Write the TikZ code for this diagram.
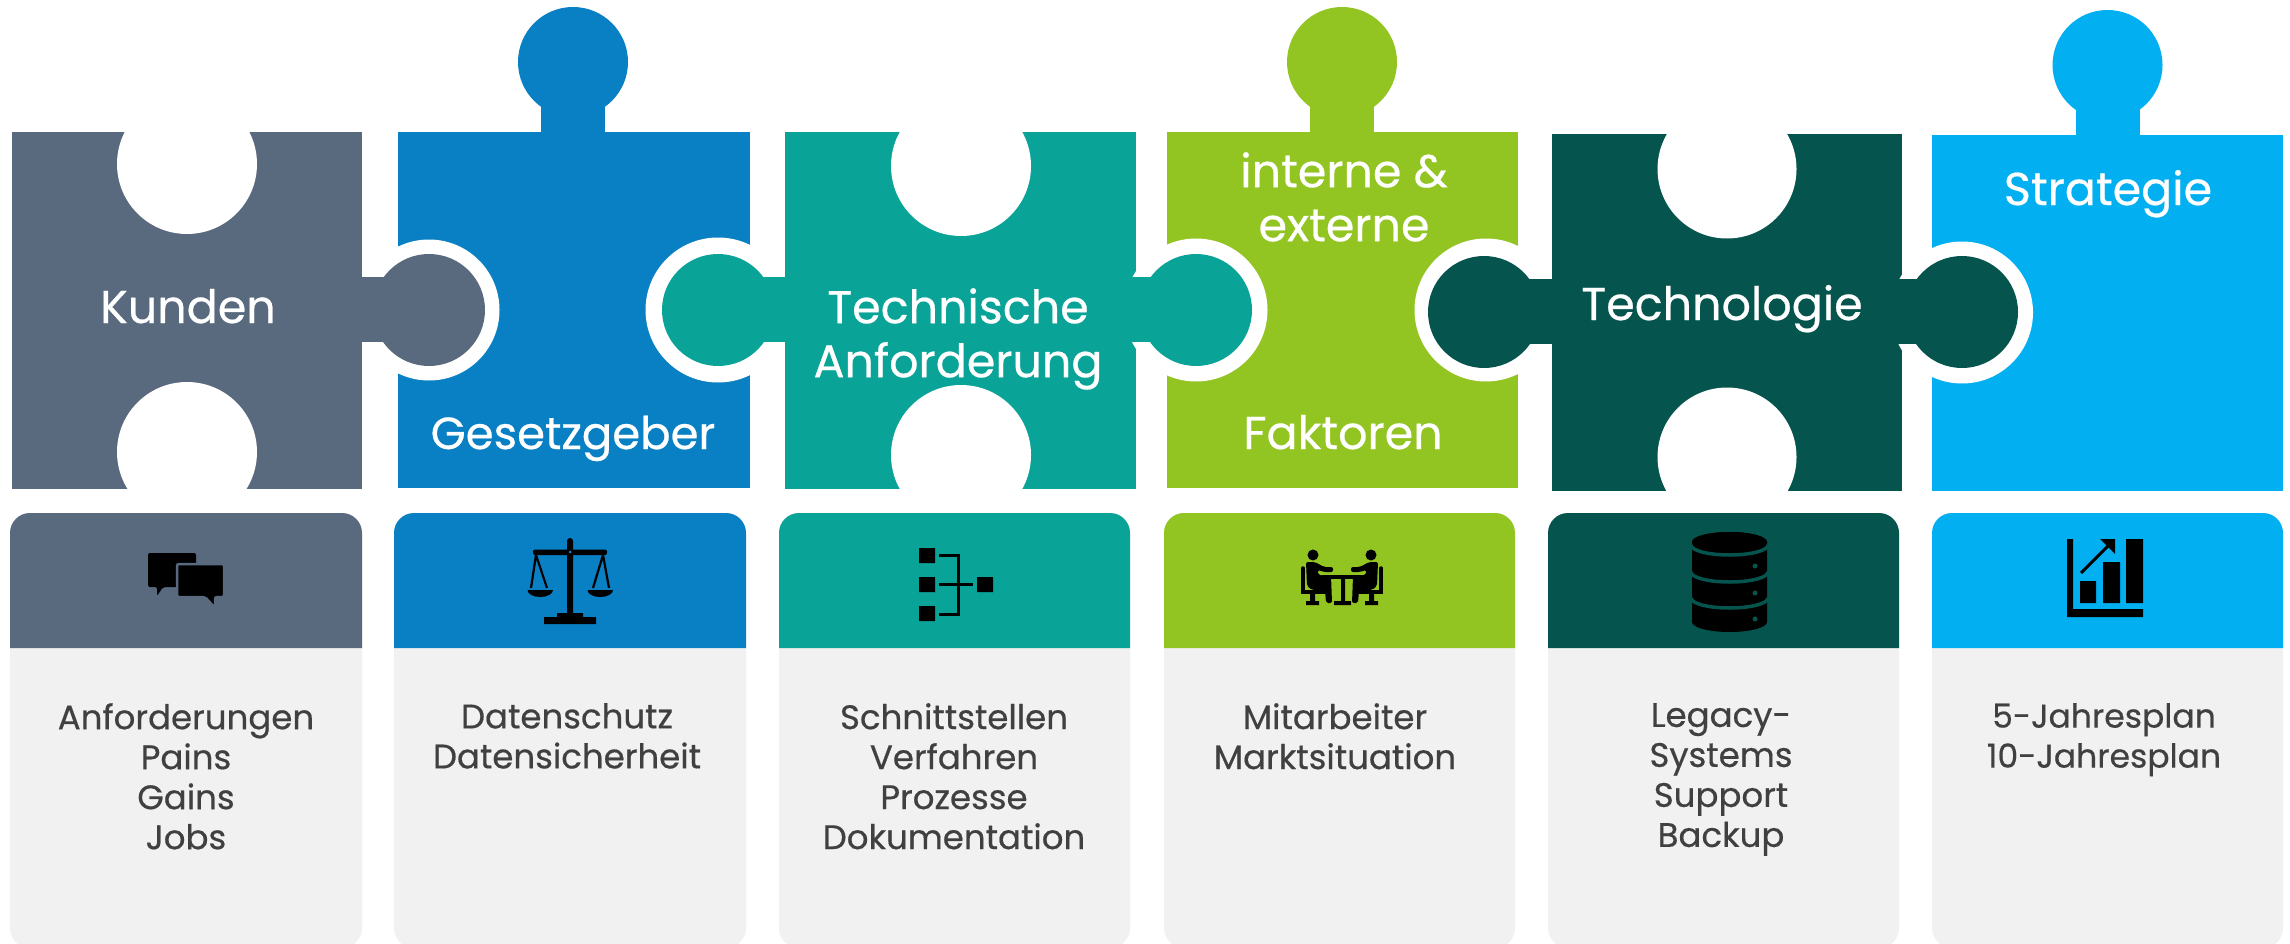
\documentclass[tikz,border=0pt]{standalone}
\usepackage{fontspec}
\setmainfont{Poppins}[FakeBold=0.5]
\definecolor{cslate}{HTML}{596A7E}
\definecolor{cblue}{HTML}{0980C4}
\definecolor{cteal}{HTML}{0AA397}
\definecolor{cgreen}{HTML}{92C422}
\definecolor{cdark}{HTML}{05544D}
\definecolor{csky}{HTML}{02B0F1}
\definecolor{cgrey}{HTML}{F1F1F1}
\definecolor{ctext}{HTML}{404040}
\tikzset{
  titletext/.style={text=white,inner sep=0pt,align=center,font=\fontsize{46}{54}\selectfont},
  bodytext/.style={text=ctext,inner sep=0pt,anchor=north,align=center,font=\fontsize{34}{40}\selectfont,execute at begin node=\strut},
  iconline/.style={draw=black,line width=3pt},
}
\newcommand{\hdrcard}[3]{%
  \fill[cgrey,rounded corners=20pt] (#1,513) rectangle (#2,948);
  \fill[#3] (#1,648) {[rounded corners=20pt] -- (#1,513) -- (#2,513)} -- (#2,648) -- cycle;
}
\newcommand{\toptab}[3]{% colour, centre x, head centre y
  \fill[#1] (#2,#3) circle[radius=55];
  \fill[#1] (#2-32,#3+40) rectangle (#2+32,#3+72);
}
\newcommand{\sidetab}[6]{% colour, head x, head y, neck x1, neck x2, neck top
  \fill[#1] (#2,#3) circle[radius=56];
  \fill[#1] (#4,#6) rectangle (#5,#6+65);
}
\begin{document}
\begin{tikzpicture}[x=1pt,y=-1pt]
\useasboundingbox (0,0) rectangle (2290,944);
\fill[white] (0,0) rectangle (2290,944);
% pieces
\fill[cslate] (12,132) rectangle (362,489);
\fill[cblue] (398,132) rectangle (750,488);
\fill[cteal] (785,132) rectangle (1136,489);
\fill[cgreen] (1167,132) rectangle (1518,488);
\fill[cdark] (1551.5,134) rectangle (1902,491);
\fill[csky] (1932,135) rectangle (2283,491);
% top tabs
\toptab{cblue}{573}{62}
\toptab{cgreen}{1342}{62}
\toptab{csky}{2107.5}{65}
% holes
\fill[white] (187,164) circle[radius=70];
\fill[white] (187,452) circle[radius=70];
\fill[white] (961,166) circle[radius=70];
\fill[white] (961,455) circle[radius=70];
\fill[white] (1727,169) circle[radius=69.5];
\fill[white] (1727,457) circle[radius=69.5];
% rings
\fill[white] (429,310) circle[radius=70.5];
\fill[white] (718,310) circle[radius=72.5];
\fill[white] (1196,310) circle[radius=71.5];
\fill[white] (1486,310) circle[radius=71.5];
\fill[white] (1962,312.5) circle[radius=71];
% side tabs
\sidetab{cslate}{429}{310}{345}{395}{277}
\sidetab{cteal}{718}{310}{750}{805}{277}
\sidetab{cteal}{1196}{310}{1115}{1165}{277}
\sidetab{cdark}{1484}{312}{1520}{1575}{279}
\sidetab{cdark}{1962}{312}{1880}{1925}{279}
% cards
\hdrcard{10}{362}{cslate}
\hdrcard{394}{746}{cblue}
\hdrcard{779}{1130}{cteal}
\hdrcard{1164}{1515}{cgreen}
\hdrcard{1548}{1899}{cdark}
\hdrcard{1932}{2283}{csky}
% titles
\node[titletext,anchor=base,font=\fontsize{45}{54}\selectfont] (tgesetz) at (573,449) {Gesetzgeber};
\node[titletext,anchor=base] (tkunden) at (188,323) {Kunden};
\node[titletext,anchor=north,execute at begin node=\strut] (ttech) at (958,288) {Technische\\Anforderung};
\node[titletext,anchor=north,execute at begin node=\strut] (tintern) at (1344,152) {interne \&\\externe};
\node[titletext,anchor=base] (tfakt) at (1343,449) {Faktoren};
\node[titletext,anchor=base] (ttechno) at (1722,320) {Technologie};
\node[titletext,anchor=base] (tstrat) at (2108,205) {Strategie};
% body texts
\node[bodytext] (b1) at (186,703) {Anforderungen\\Pains\\Gains\\Jobs};
\node[bodytext] (b2) at (567,703) {Datenschutz\\Datensicherheit};
\node[bodytext] (b3) at (954,703) {Schnittstellen\\Verfahren\\Prozesse\\Dokumentation};
\node[bodytext] (b4) at (1335,703) {Mitarbeiter\\Marktsituation};
\node[bodytext] (b5) at (1721,703) {Legacy-\\Systems\\Support\\Backup};
\node[bodytext,font=\fontsize{33}{40}\selectfont] (b6) at (2104,703) {5-Jahresplan\\10-Jahresplan};
% icon: chat
\fill[black,rounded corners=2pt] (148,553) -- (196,553) -- (196,587) -- (163,587) -- (157,596) -- (157,587) -- (148,587) -- cycle;
\fill[black,draw=cslate,line width=2.5pt,rounded corners=2pt] (177,564) -- (224,564) -- (224,597) -- (215,597) -- (215,608) -- (205,597) -- (177,597) -- cycle;
% icon: scales
\fill[black] (567,541) arc[start angle=180,end angle=360,radius=3] -- (573,613) -- (583,613) -- (583,617) -- (596,617) -- (596,624) -- (544,624) -- (544,617) -- (557,617) -- (557,613) -- (567,613) -- cycle;
\fill[black,rounded corners=2pt] (533,549.5) rectangle (607,555);
\fill[cblue] (570,552) circle[radius=1.5];
\draw[black,line width=2.2pt] (531,588) -- (536,555) -- (547,588);
\draw[black,line width=2.2pt] (593,588) -- (603,555) -- (609,588);
\fill[black] (527.5,590) -- (553,590) arc[start angle=0,end angle=180,x radius=12.75,y radius=7] -- cycle;
\fill[black] (587.5,590) -- (613,590) arc[start angle=0,end angle=180,x radius=12.75,y radius=7] -- cycle;
% icon: hierarchy
\fill[black] (919,548) rectangle (935,563) (919,577) rectangle (935,592) (919,606) rectangle (935,621) (977,577) rectangle (993,592);
\draw[iconline] (939,555) -- (958,555) -- (958,614) -- (939,614) (939,584.5) -- (973,584.5);
% icon: people
\draw[black,line width=4pt,line cap=round] (1323,577) -- (1362,577);
\fill[black] (1341,577) rectangle (1345,602) (1334,601) rectangle (1351,605);
\foreach \s in {1,-1}{
  \begin{scope}[shift={(1342,0)},xscale=\s]
    \fill[black] (-29,555) circle[radius=5.5];
    \fill[black,rounded corners=2pt] (-36,562) -- (-27,562) -- (-18,567) -- (-9,567) -- (-9,572) -- (-18,572) -- (-24,570) -- (-24,575) -- (-11,576) -- (-10,603) -- (-16,603) -- (-17,590) -- (-30,590) -- (-35,586) -- cycle;
    \draw[black,line width=3.5pt,line cap=round] (-39,568) -- (-39,592) -- (-17,592);
    \fill[black] (-32,592) rectangle (-27,602) (-36,601) rectangle (-23,605);
  \end{scope}
}
% icon: database
\fill[black] (1692,542) arc[start angle=180,end angle=360,x radius=37.5,y radius=10] -- (1767,622) arc[start angle=0,end angle=180,x radius=37.5,y radius=10] -- cycle;
\fill[black] (1729.5,542) ellipse[x radius=37.5,y radius=10];
\foreach \yy in {545,572,598}{
  \draw[cdark,line width=3.5pt] (1691,\yy) arc[start angle=180,end angle=0,x radius=38.5,y radius=10];
}
\fill[cdark] (1755,566) circle[radius=2.5];
\fill[cdark] (1755,593) circle[radius=2.5];
\fill[cdark] (1755,619) circle[radius=2.5];
% icon: chart
\fill[black] (2067,539) rectangle (2073,617) (2067,609) rectangle (2143,617);
\fill[black] (2080,581) rectangle (2096,603) (2103,562) rectangle (2120,603) (2126,539) rectangle (2143,603);
\draw[black,line width=3pt] (2081,573) -- (2110,544);
\fill[black] (2100,539) -- (2115,539) -- (2115,554) -- cycle;
\end{tikzpicture}
\end{document}
